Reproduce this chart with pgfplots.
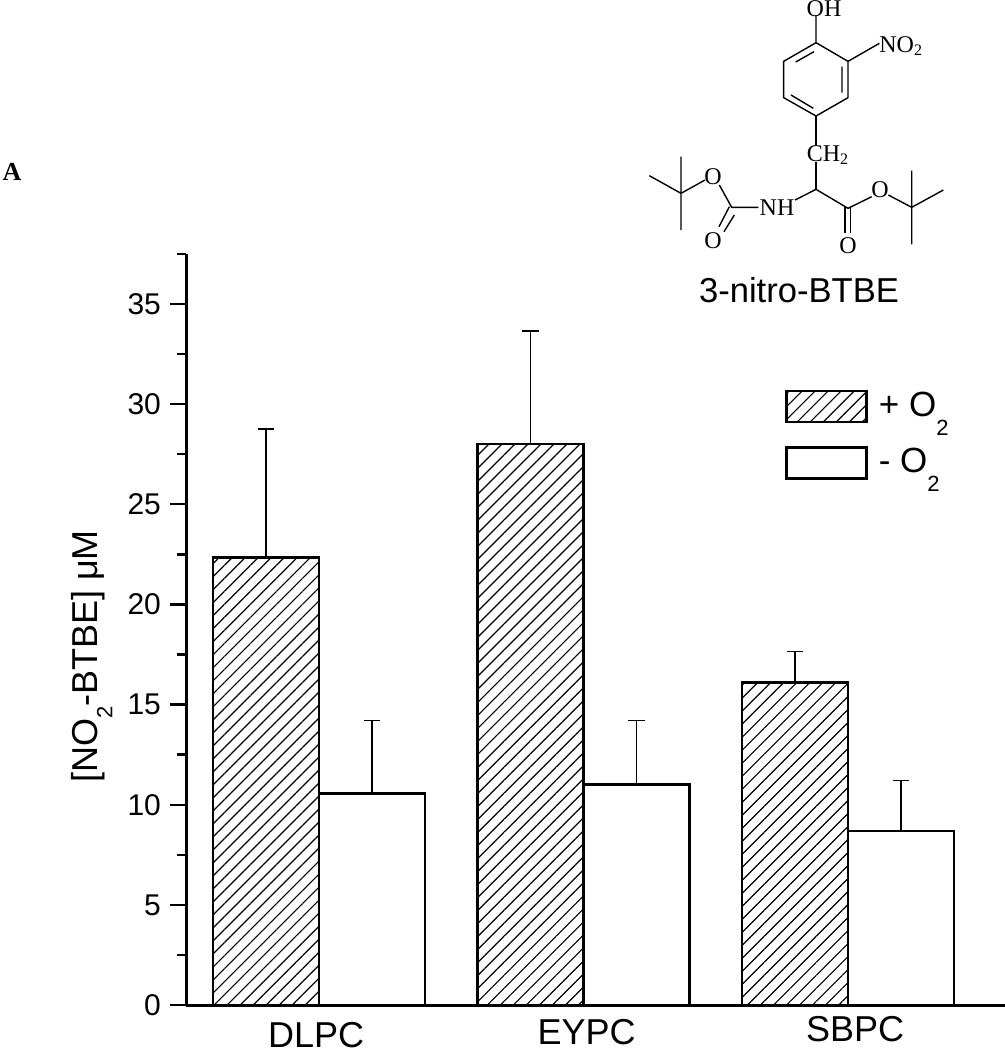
\documentclass[border=0pt]{standalone}
\usepackage{pgfplots}
\pgfplotsset{compat=1.18}
\usepackage{fontspec}
\setmainfont{Liberation Sans}
\newfontfamily\serifchem{Liberation Serif}
\usetikzlibrary{patterns.meta}

\newcommand{\fs}[1]{\fontsize{#1}{#1}\selectfont}
\newcommand{\lowtwo}{\raisebox{-0.42em}{\fs{11}2}}
\newcommand{\legtext}[1]{\hspace*{3.5pt}\raisebox{1.5pt}{#1 O\raisebox{-0.55em}{\fs{11}2}}}

\pgfplotsset{
    swatch/.style={legend image code/.code={\draw[##1] (0pt,-7.5pt) rectangle (40pt,8pt);}},
    ebar/.style={error bars/.cd, y dir=plus, y explicit, error mark=|,
        error bar style={line width=0.7pt},
        error mark options={mark size=4.2pt,line width=0.8pt}},
}

\pgfplotstableread{
x   plus  pluserr  minus  minuserr
0   22.35  6.40    10.55  3.65
1   28.00  5.65    11.00  3.20
2   16.10  1.55     8.70  2.50
}\bars

\begin{document}
% 1 px of the reference = 0.5pt
\begin{tikzpicture}
\path[use as bounding box] (0pt,0pt) rectangle (502.5pt,-525pt);
\begin{axis}[
    at={(93pt,-502.5pt)}, anchor=south west,
    x=132.25pt, y=10.015pt,
    ybar=0pt, bar width=53pt,
    xmin=-0.503, xmax=2.594, ymin=0, ymax=37.5,
    axis x line*=bottom, axis y line*=left,
    axis line style={line width=1.5pt,-},
    ytick={0,5,...,35},
    minor ytick={2.5,7.5,...,37.5},
    tick style={black,line width=1.2pt},
    major tick length=8pt, minor tick length=4.5pt,
    tick align=outside,
    xtick={0,1,2}, x tick style={draw=none},
    xticklabels={\kern-3pt DLPC,\kern3pt\raisebox{1.5pt}{EYPC},\kern7pt\raisebox{3pt}{SBPC}},
    xticklabel style={font=\fs{18}, anchor=base, yshift=-13pt},
    yticklabel style={font=\fs{15}, xshift=-1pt},
    /pgf/number format/assume math mode=true,
    ylabel={[NO\lowtwo-BTBE] μM},
    ylabel style={font=\fs{18}, at={(axis description cs:-0.115,0.464)}, anchor=center},
    legend style={draw=none, fill=none, at={(0.724,0.8275)}, anchor=north west,
        font=\fs{17.5}, row sep=9pt},
    legend cell align=left,
    clip=false,
]
\addplot[black, line width=1.2pt, swatch,
    pattern={Lines[angle=45,distance=4.6pt,line width=0.6pt]}, ebar]
    table[x=x,y=plus,y error=pluserr] {\bars};
\addplot[black, line width=1.2pt, fill=white, swatch, ebar]
    table[x=x,y=minus,y error=minuserr] {\bars};
\legend{\legtext{+},\legtext{-}}
\end{axis}

\begin{scope}[x=0.5pt,y=-0.5pt]
\node[font=\serifchem\bfseries\fs{13}] at (12,172) {A};
\begin{scope}[font=\serifchem\fs{12}]
\node at (824,9) {OH};
\node[anchor=west,inner sep=0pt] at (879,46) {NO\textsubscript{2}};
\node at (828,155) {CH\textsubscript{2}};
\node at (713,177) {O};
\node at (777,208) {NH};
\node at (880,190) {O};
\node at (713,241) {O};
\node at (848,246) {O};
\end{scope}
\node[font=\fs{17.3}] at (799,290) {3-nitro-BTBE};
\end{scope}

% structure of 3-nitro-BTBE, from a 3x crop of the reference starting at px 620
\begin{scope}[line width=0.7pt, x=0.16667pt, y=-0.16667pt, shift={(1860,0)}]
\draw (588,45)--(588,128)--(684,184)--(684,293)--(588,348)--(491,293)--(491,184)--(588,128);
\draw (527,186)--(582,155) (666,200)--(666,278) (513,285)--(580,325);
\draw (684,184)--(778,130);
\draw (588,348)--(588,438) (588,487)--(588,568);
\draw (525,600)--(588,568)--(684,625)--(755,590) (805,585)--(875,622);
\draw (875,512)--(875,733) (875,622)--(970,570);
\draw (675,622)--(675,700) (692,622)--(692,700);
\draw (415,622)--(335,622)--(298,555) (255,540)--(183,580);
\draw (183,470)--(183,690) (183,580)--(88,527);
\draw (328,620)--(297,680) (343,645)--(312,695);
\end{scope}
\end{tikzpicture}
\end{document}
